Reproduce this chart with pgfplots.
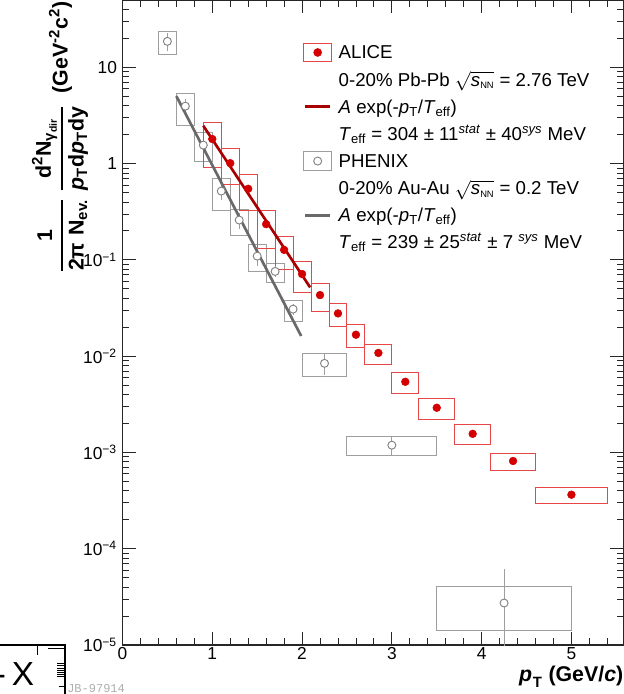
\documentclass[border=0pt]{standalone}
\usepackage{amsmath}
\usepackage{fontspec}
\setmainfont{Liberation Sans}
\setmonofont{Liberation Mono}
\usepackage{pgfplots}
\pgfplotsset{compat=1.18}
\definecolor{alicered}{RGB}{212,0,0}
\definecolor{boxred}{RGB}{230,70,70}
\definecolor{fitred}{RGB}{168,0,0}
\definecolor{boxgrey}{RGB}{158,158,158}
\definecolor{markgrey}{RGB}{130,130,130}
\definecolor{fitgrey}{RGB}{105,105,105}
\newcommand{\sysbox}[5]{\addplot[#1,line width=0.75pt,line join=miter,forget plot,mark=none] coordinates {(#2,#4) (#3,#4) (#3,#5) (#2,#5)} -- cycle;}
\newcommand{\lfont}{\fontsize{14}{16}\selectfont}
\newcommand{\tfont}{\fontsize{13}{15}\selectfont}
\begin{document}
\begin{tikzpicture}
\begin{axis}[
  at={(91.875pt,36.75pt)}, anchor=south west,
  scale only axis, width=375.75pt, height=483.75pt,
  xmin=0, xmax=5.58, ymode=log, ymin=1e-5, ymax=50,
  axis line style={black!85, line width=0.8pt},
  tick align=inside,
  major tick length=10pt, minor tick length=5pt,
  every tick/.style={black!85, line width=0.6pt},
  xtick={0,1,2,3,4,5},
  minor xtick={0,0.2,...,5.5},
  ytick={1e-5,1e-4,1e-3,1e-2,1e-1,1,10},
  yticklabels={10\textsuperscript{−5},10\textsuperscript{−4},10\textsuperscript{−3},10\textsuperscript{−2},10\textsuperscript{−1},1,10},
  minor ytick={2e-5,3e-5,4e-5,5e-5,6e-5,7e-5,8e-5,9e-5,
    2e-4,3e-4,4e-4,5e-4,6e-4,7e-4,8e-4,9e-4,
    2e-3,3e-3,4e-3,5e-3,6e-3,7e-3,8e-3,9e-3,
    2e-2,3e-2,4e-2,5e-2,6e-2,7e-2,8e-2,9e-2,
    0.2,0.3,0.4,0.5,0.6,0.7,0.8,0.9,
    2,3,4,5,6,7,8,9,20,30,40,50},
  /pgf/number format/assume math mode=true,
  ticklabel style={font=\tfont},
  xticklabel style={inner sep=1.5pt},
  yticklabel style={inner sep=4pt},
  xlabel={\bfseries\itshape p\kern0.5pt\raisebox{-0.3ex}{\textsubscript{\upshape T}} \upshape(GeV/\itshape c\upshape)},
  xlabel style={at={(axis description cs:1,0)}, anchor=base east, yshift=-27pt, font=\fontsize{16}{18}\selectfont, inner sep=0pt},
  ylabel={\bfseries $\displaystyle\genfrac{}{}{1pt}{0}{\mbox{\bfseries 1}}{\mbox{\bfseries 2π\,\,N\textsubscript{ev.}}}\;\genfrac{}{}{1pt}{0}{\mbox{\bfseries d\textsuperscript{2}N\textsubscript{γ\textsubscript{dir}}}}{\mbox{\bfseries\itshape p\textsubscript{\upshape T}\upshape d\itshape p\textsubscript{\upshape T}\upshape dy}}$\; (GeV\textsuperscript{-2}c\textsuperscript{2})},
  ylabel style={at={(axis description cs:-0.1248,0.998)}, anchor=east, font=\fontsize{16}{18}\selectfont, inner sep=0pt},
  legend style={at={(axis description cs:0.3609,0.9397)}, anchor=north west, draw=none, fill=none, inner sep=0pt, outer sep=0pt, row sep=0pt, column sep=5pt, font=\lfont, nodes={inner sep=0pt, text height=15pt, text depth=5.36pt}},
  legend cell align=left,
  clip=true,
]
% legend
\addlegendimage{legend image code/.code={\draw[boxred,line width=0.75pt] (0pt,-6.9pt) rectangle (20.8pt,6.9pt); \fill[alicered] (10.4pt,0pt) circle (3pt);}}
\addlegendentry{ALICE}
\addlegendimage{empty legend}
\addlegendentry{0-20\% Pb-Pb $\sqrt{\mbox{\itshape s}_{\mbox{\fontsize{7}{8}\selectfont NN}}}$ = 2.76 TeV}
\addlegendimage{legend image code/.code={\draw[fitred, line width=2pt] (0.8pt,0pt) -- (20pt,0pt);}}
\addlegendentry{\textit{A} exp(-\textit{p}\textsubscript{T}/\textit{T}\textsubscript{eff})}
\addlegendimage{empty legend}
\addlegendentry{\textit{T}\textsubscript{eff} = 304 ± 11\textsuperscript{\textit{stat}} ± 40\textsuperscript{\textit{sys}} MeV}
\addlegendimage{legend image code/.code={\draw[boxgrey,line width=0.75pt] (0pt,-6.9pt) rectangle (20.8pt,6.9pt); \draw[markgrey,fill=white,line width=0.7pt] (10.4pt,0pt) circle (3pt);}}
\addlegendentry{PHENIX}
\addlegendimage{empty legend}
\addlegendentry{0-20\% Au-Au $\sqrt{\mbox{\itshape s}_{\mbox{\fontsize{7}{8}\selectfont NN}}}$ = 0.2 TeV}
\addlegendimage{legend image code/.code={\draw[fitgrey, line width=2pt] (0.8pt,0pt) -- (20pt,0pt);}}
\addlegendentry{\textit{A} exp(-\textit{p}\textsubscript{T}/\textit{T}\textsubscript{eff})}
\addlegendimage{empty legend}
\addlegendentry{\textit{T}\textsubscript{eff} = 239 ± 25\textsuperscript{\textit{stat}} ± 7 \textsuperscript{\textit{sys}} MeV}
% PHENIX systematic boxes
\sysbox{boxgrey}{0.4}{0.6}{13.6}{23.4}
\sysbox{boxgrey}{0.6}{0.8}{2.49}{5.31}
\sysbox{boxgrey}{0.8}{1.0}{1.045}{2.09}
\sysbox{boxgrey}{1.0}{1.2}{0.324}{0.70}
\sysbox{boxgrey}{1.2}{1.4}{0.177}{0.337}
\sysbox{boxgrey}{1.4}{1.6}{0.0752}{0.145}
\sysbox{boxgrey}{1.6}{1.8}{0.0583}{0.092}
\sysbox{boxgrey}{1.8}{2.0}{0.0228}{0.0382}
\sysbox{boxgrey}{2.0}{2.5}{0.0061}{0.0107}
\sysbox{boxgrey}{2.5}{3.5}{0.00094}{0.001455}
\sysbox{boxgrey}{3.5}{5.0}{1.42e-5}{4.03e-5}
% ALICE systematic boxes
\sysbox{boxred}{0.9}{1.1}{0.92}{2.68}
\sysbox{boxred}{1.1}{1.3}{0.60}{1.44}
\sysbox{boxred}{1.3}{1.5}{0.329}{0.773}
\sysbox{boxred}{1.5}{1.7}{0.1316}{0.329}
\sysbox{boxred}{1.7}{1.9}{0.079}{0.175}
\sysbox{boxred}{1.9}{2.1}{0.0455}{0.0973}
\sysbox{boxred}{2.1}{2.3}{0.0289}{0.057}
\sysbox{boxred}{2.3}{2.5}{0.0202}{0.0353}
\sysbox{boxred}{2.5}{2.7}{0.0122}{0.0212}
\sysbox{boxred}{2.7}{3.0}{0.00822}{0.01327}
\sysbox{boxred}{3.0}{3.3}{0.00411}{0.00679}
\sysbox{boxred}{3.3}{3.7}{0.00221}{0.00365}
\sysbox{boxred}{3.7}{4.1}{0.00120}{0.00193}
\sysbox{boxred}{4.1}{4.6}{0.000652}{0.000977}
\sysbox{boxred}{4.6}{5.4}{0.000296}{0.000435}
% PHENIX points with stat errors
\addplot[forget plot, only marks, mark=*, mark size=3pt,
  mark options={draw=markgrey, fill=white, line width=0.7pt},
  error bars/.cd, y dir=both, y explicit, error mark=none,
  error bar style={boxgrey, line width=0.75pt}]
coordinates {
 (0.5,18.6) +- (0,4.0)
 (0.7,3.95) +- (0,0.7)
 (0.9,1.556) +- (0,0.15)
 (1.1,0.518) +- (0,0.1)
 (1.3,0.259) +- (0,0.05)
 (1.5,0.1094) +- (0,0.023)
 (1.7,0.0759) +- (0,0.010)
 (1.9,0.0308) +- (0,0.004)
 (2.25,0.00842) +- (0,0.002)
 (3.0,0.00119) +- (0,0.00028)
 (4.25,2.73e-5) += (0,3.5e-5) -= (0,2.7e-5)
};
% ALICE points
\addplot[forget plot, only marks, mark=*, mark size=2.9pt, mark options={draw=alicered, fill=alicered}]
coordinates {
 (1.0,1.80) (1.2,1.01) (1.4,0.547) (1.6,0.235) (1.8,0.127) (2.0,0.0713)
 (2.2,0.0431) (2.4,0.0278) (2.6,0.0167) (2.85,0.0108) (3.15,0.00542)
 (3.5,0.00291) (3.9,0.00156) (4.35,0.000815) (5.0,0.000364)
};
% fits
\addplot[forget plot, fitgrey, line width=2pt, mark=none] coordinates {(0.6,5.02) (1.99,0.0162)};
\addplot[forget plot, fitred, line width=2pt, mark=none] coordinates {(0.9,2.47) (2.09,0.0518)};
\end{axis}
% cropped neighbour panel fragment at bottom left
\draw[black, line width=0.8pt] (0pt,36.75pt) -- (48.75pt,36.75pt) -- (48.75pt,0pt);
\draw[black, line width=0.6pt] (27.75pt,36.75pt) -- (27.75pt,29.25pt);
\draw[black, line width=0.6pt] (36pt,34.5pt) -- (48.75pt,34.5pt);
\foreach \yy in {23.0,21.3,19.6,18.0,16.3,14.7,13.0} {\draw[black, line width=0.5pt] (43pt,\yy pt) -- (48.75pt,\yy pt);}
\draw[black, line width=0.5pt] (44pt,5.5pt) -- (48.75pt,5.5pt);
\node[anchor=base east, inner sep=0pt, font=\fontsize{25}{25}\selectfont] at (4.6pt,6pt) {-};
\node[anchor=base west, inner sep=0pt, font=\fontsize{25}{25}\selectfont] at (8.8pt,6pt) {X};
\node[anchor=base west, inner sep=0pt, font=\ttfamily\fontsize{9}{9}\selectfont, text=black!32] at (50.25pt,1.5pt) {JB-97914};
\pgfresetboundingbox
\path[use as bounding box] (0pt,0pt) rectangle (468pt,520.5pt);
\end{tikzpicture}
\end{document}
